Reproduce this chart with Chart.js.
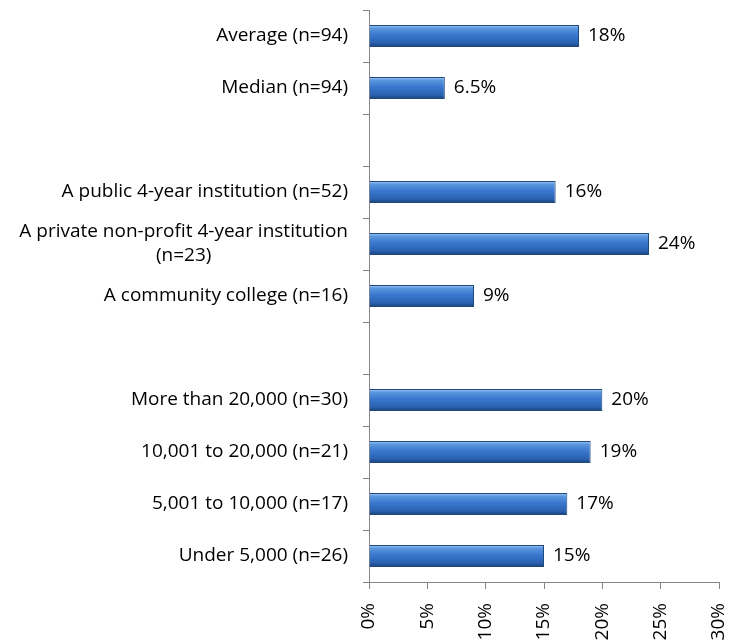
<!DOCTYPE html>
<html lang="en">
<head>
    <meta charset="UTF-8">
    <title>Share by institution type and size</title>
    <script src="https://cdn.jsdelivr.net/npm/chart.js"></script>
    <style>
        html, body { margin: 0; padding: 0; background: #fff; }
        .chart-container { position: relative; width: 736px; height: 641px; }
    </style>
</head>
<body>
    <div class="chart-container">
        <canvas id="barChart"></canvas>
    </div>

    <script>
        // data ('' rows are the blank spacer rows)
        const categories = [
            'Average (n=94)',
            'Median (n=94)',
            '',
            'A public 4-year institution (n=52)',
            ['A private non-profit 4-year institution', '(n=23)'],
            'A community college (n=16)',
            '',
            'More than 20,000 (n=30)',
            '10,001 to 20,000 (n=21)',
            '5,001 to 10,000 (n=17)',
            'Under 5,000 (n=26)'
        ];
        const values = [18, 6.5, null, 16, 24, 9, null, 20, 19, 17, 15];
        const valueLabels = ['18%', '6.5%', '', '16%', '24%', '9%', '', '20%', '19%', '17%', '15%'];
        const xTickValues = [0, 5, 10, 15, 20, 25, 30];

        const FONT = '"Open Sans", Lato, sans-serif';
        const FONT_SIZE = 19;
        const BAR_PCT = 0.42;
        const axisGrey = '#868686';

        function barGradient(context) {
            const chart = context.chart;
            const yScale = chart.scales.y;
            if (!yScale || context.dataIndex === undefined) return '#3b7bd4';
            const yc = yScale.getPixelForValue(context.dataIndex);
            const half = yScale.height / categories.length * BAR_PCT / 2;
            if (!Number.isFinite(yc) || !Number.isFinite(half) || half <= 0) return '#3b7bd4';
            const g = chart.ctx.createLinearGradient(0, yc - half, 0, yc + half);
            g.addColorStop(0, '#a4c8f2');
            g.addColorStop(0.15, '#5b95de');
            g.addColorStop(0.45, '#3a77cf');
            g.addColorStop(0.8, '#2c63b3');
            g.addColorStop(1, '#1b4178');
            return g;
        }

        // category labels drawn by hand so the two-line one is centred like in the original
        const yLabelPlugin = {
            id: 'yLabels',
            afterDraw(chart) {
                const scale = chart.scales.y;
                const ctx = chart.ctx;
                ctx.save();
                ctx.font = FONT_SIZE + 'px ' + FONT;
                ctx.fillStyle = '#000';
                ctx.textBaseline = 'middle';
                const right = scale.right - 21;
                categories.forEach((label, i) => {
                    const y = scale.getPixelForTick(i);
                    if (Array.isArray(label)) {
                        const w = Math.max(...label.map(l => ctx.measureText(l).width));
                        const lh = 24;
                        ctx.textAlign = 'center';
                        label.forEach((line, j) => {
                            ctx.fillText(line, right - w / 2, y + (j - (label.length - 1) / 2) * lh);
                        });
                    } else if (label) {
                        ctx.textAlign = 'right';
                        ctx.fillText(label, right, y);
                    }
                });
                ctx.restore();
            }
        };

        const valueLabelPlugin = {
            id: 'valueLabels',
            afterDatasetsDraw(chart) {
                const ctx = chart.ctx;
                const meta = chart.getDatasetMeta(0);
                ctx.save();
                ctx.font = FONT_SIZE + 'px ' + FONT;
                ctx.fillStyle = '#000';
                ctx.textAlign = 'left';
                ctx.textBaseline = 'middle';
                meta.data.forEach((bar, i) => {
                    if (values[i] === null) return;
                    ctx.fillText(valueLabels[i], bar.x + 9, bar.y);
                });
                ctx.restore();
            }
        };

        const ctx = document.getElementById('barChart').getContext('2d');
        const chart = new Chart(ctx, {
            type: 'bar',
            data: {
                labels: categories,
                datasets: [{
                    data: values,
                    backgroundColor: barGradient,
                    borderColor: '#1f4a80',
                    borderWidth: 1,
                    borderSkipped: 'start',
                    barPercentage: BAR_PCT,
                    categoryPercentage: 1
                }]
            },
            options: {
                indexAxis: 'y',
                responsive: true,
                maintainAspectRatio: false,
                animation: false,
                layout: { padding: { top: 10, right: 17, left: 0, bottom: 0 } },
                plugins: {
                    legend: { display: false },
                    tooltip: { enabled: false }
                },
                scales: {
                    x: {
                        min: 0,
                        max: 30,
                        afterBuildTicks(scale) {
                            scale.ticks = xTickValues.map(v => ({ value: v }));
                        },
                        afterFit(scale) {
                            scale.height = 59;
                            scale.paddingLeft = 0;
                            scale.paddingRight = 0;
                        },
                        border: { color: axisGrey, width: 1 },
                        grid: {
                            drawOnChartArea: false,
                            drawTicks: true,
                            tickLength: 7,
                            color: axisGrey
                        },
                        ticks: {
                            minRotation: 90,
                            maxRotation: 90,
                            padding: 14,
                            color: '#000',
                            font: { family: FONT, size: FONT_SIZE },
                            callback: v => v + '%'
                        }
                    },
                    y: {
                        afterFit(scale) {
                            scale.width = 369;
                            scale.paddingTop = 0;
                            scale.paddingBottom = 0;
                        },
                        border: { color: axisGrey, width: 1 },
                        grid: {
                            drawOnChartArea: false,
                            drawTicks: true,
                            tickLength: 6,
                            offset: true,
                            color: axisGrey
                        },
                        ticks: {
                            color: 'rgba(0,0,0,0)',
                            font: { family: FONT, size: FONT_SIZE }
                        }
                    }
                }
            },
            plugins: [yLabelPlugin, valueLabelPlugin]
        });
    </script>
</body>
</html>
